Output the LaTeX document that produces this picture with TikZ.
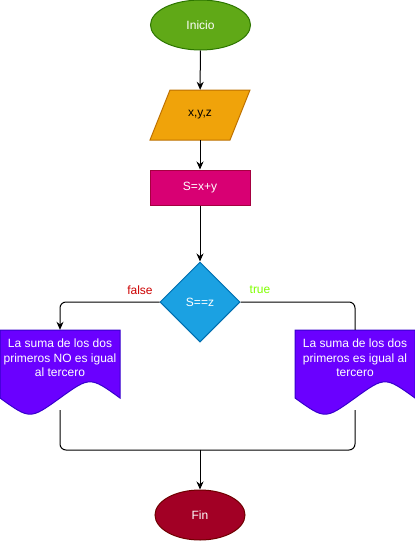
\documentclass[tikz,border=0pt]{standalone}
\usepackage{fontspec}
\setmainfont{Liberation Sans}
\usetikzlibrary{shapes.geometric,arrows.meta}
\definecolor{iniF}{HTML}{60A917}
\definecolor{iniD}{HTML}{2D7600}
\definecolor{parF}{HTML}{F0A30A}
\definecolor{parD}{HTML}{BD7000}
\definecolor{recF}{HTML}{D80073}
\definecolor{recD}{HTML}{A50040}
\definecolor{diaF}{HTML}{1BA1E2}
\definecolor{diaD}{HTML}{006EAF}
\definecolor{docF}{HTML}{6A00FF}
\definecolor{docD}{HTML}{3700CC}
\definecolor{finF}{HTML}{A20025}
\definecolor{finD}{HTML}{6F0000}
\definecolor{falseC}{HTML}{CC0000}
\definecolor{trueC}{HTML}{80FF00}
\begin{document}
\begin{tikzpicture}[x=1pt,y=-1pt,
  txt/.style={font=\fontsize{12}{14.5}\selectfont, inner sep=0pt},
  shp/.style={txt, line width=1pt},
  conn/.style={line width=1pt, rounded corners=6pt},
  arr/.style={conn, -{Stealth[length=8pt,width=7pt]}},
  docshape/.style={fill=docF, draw=docD, line width=1pt}
]
\useasboundingbox (0,0) rectangle (415,541);
% start
\node[shp, ellipse, fill=iniF, draw=iniD, minimum width=100pt, minimum height=50pt, text=white] (inicio) at (200.5,25) {Inicio};
% input parallelogram
\path[fill=parF, draw=parD, line width=1pt] (170,90) -- (250,90) -- (230,140) -- (150,140) -- cycle;
\node[txt, minimum width=100pt, minimum height=50pt, text=black] (par) at (200,115) {x,y,z};
% process
\node[shp, rectangle, fill=recF, draw=recD, minimum width=100pt, minimum height=35pt, text=white] (rec) at (200,187.5) {S=x+y};
% decision
\node[shp, diamond, fill=diaF, draw=diaD, minimum width=80pt, minimum height=80pt, text=white] (dia) at (200,302) {S==z};
% documents
\path[docshape] (0,330) -- (120,330) -- (120,398) .. controls (90,376.4) .. (60,398) .. controls (30,419.6) .. (0,398) -- cycle;
\path[docshape] (295,330) -- (415,330) -- (415,398) .. controls (385,376.4) .. (355,398) .. controls (325,419.6) .. (295,398) -- cycle;
\node[txt, minimum width=120pt, minimum height=56pt, align=center, text=white] (docL) at (60,358) {La suma de los dos\\primeros NO es igual\\al tercero};
\node[txt, minimum width=120pt, minimum height=56pt, align=center, text=white] (docR) at (355,358) {La suma de los dos\\primeros es igual al\\tercero};
% end
\node[shp, ellipse, fill=finF, draw=finD, minimum width=90pt, minimum height=50pt, text=white] (fin) at (200,515) {Fin};
% labels
\node[txt, text=falseC] (lf) at (140,290) {false};
\node[txt, text=trueC] (lt) at (260,290) {true};
% connectors
\draw[arr] (inicio) -- (par);
\draw[arr] (par) -- (rec);
\draw[arr] (rec) -- (dia);
\draw[arr] (dia.west) -| (docL.north);
\draw[conn] (dia.east) -| (docR.north);
\coordinate (merge) at (200,450);
\draw[conn] ([yshift=-24pt]docL.south) |- (merge);
\draw[conn] ([yshift=-24pt]docR.south) |- (merge);
\draw[arr] (merge) -- (fin);
\end{tikzpicture}
\end{document}
